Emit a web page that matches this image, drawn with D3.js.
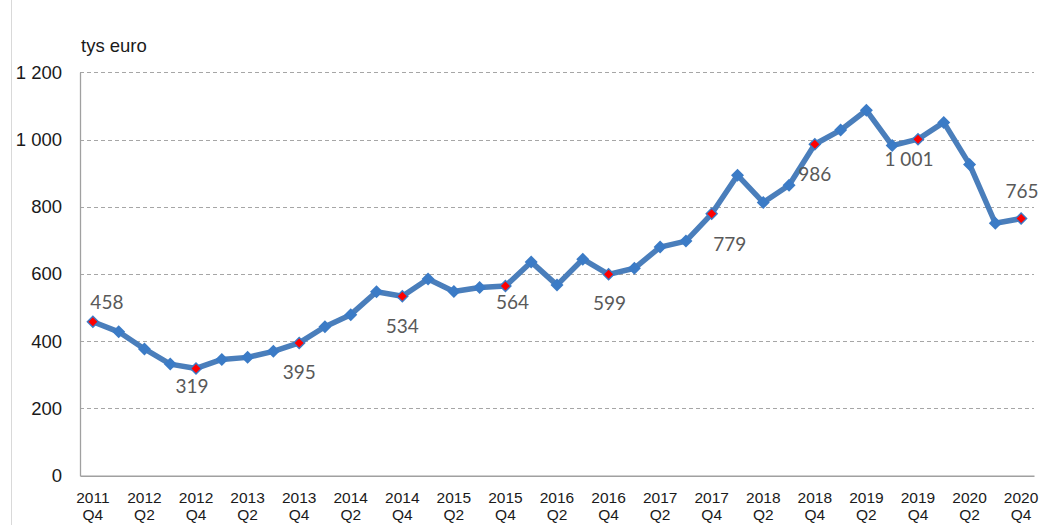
<!DOCTYPE html>
<html>
<head>
<meta charset="utf-8">
<script src="https://cdn.jsdelivr.net/npm/d3@7"></script>
<style>
  html, body { margin: 0; padding: 0; background: #fff; }
  svg { display: block; }
</style>
</head>
<body>
<svg id="chart" width="1039" height="525"></svg>
<script>
const quarters = ["2011 Q4","2012 Q1","2012 Q2","2012 Q3","2012 Q4","2013 Q1","2013 Q2","2013 Q3","2013 Q4",
  "2014 Q1","2014 Q2","2014 Q3","2014 Q4","2015 Q1","2015 Q2","2015 Q3","2015 Q4",
  "2016 Q1","2016 Q2","2016 Q3","2016 Q4","2017 Q1","2017 Q2","2017 Q3","2017 Q4",
  "2018 Q1","2018 Q2","2018 Q3","2018 Q4","2019 Q1","2019 Q2","2019 Q3","2019 Q4",
  "2020 Q1","2020 Q2","2020 Q3","2020 Q4"];
const values = [458, 428, 377, 332, 319, 346, 352, 370, 395,
  443, 479, 547, 534, 585, 548, 560, 564,
  636, 567, 644, 599, 617, 680, 698, 779,
  894, 813, 864, 986, 1028, 1087, 982, 1001,
  1051, 926, 751, 765];
const labeledQuarters = ["2011 Q4","2012 Q4","2013 Q4","2014 Q4","2015 Q4","2016 Q4","2017 Q4","2018 Q4","2019 Q4","2020 Q4"];
const labelTexts = ["458","319","395","534","564","599","779","986","1 001","765"];
const yTicks = [0, 200, 400, 600, 800, 1000, 1200];
const yTickLabels = ["0","200","400","600","800","1 000","1 200"];
const unitLabel = "tys euro";

// label placement offsets (dx, dy) relative to point
const labelOffsets = [[14,-18],[-4,20],[0,31],[0,32],[7,18],[1,31],[18,32],[0,32],[-9,22],[1,-25]];

(function () {
const svg = d3.select("#chart");
const W = 1039, H = 525;
const mLeft = 80, mRight = 1034, mTop = 72.3, mBottom = 475.7;

const x = d3.scaleBand().domain(quarters).range([mLeft, mRight]).padding(0);
const y = d3.scaleLinear().domain([0, 1200]).range([mBottom, mTop]);
const cx = q => x(q) + x.bandwidth() / 2;

// left border line
svg.append("line").attr("x1", 11.5).attr("x2", 11.5).attr("y1", 0).attr("y2", H)
  .attr("stroke", "#d9d9d9").attr("stroke-width", 1);

// gridlines
svg.append("g").selectAll("line").data(yTicks.filter(d => d > 0)).join("line")
  .attr("x1", mLeft).attr("x2", mRight)
  .attr("y1", d => Math.round(y(d)) + 0.5).attr("y2", d => Math.round(y(d)) + 0.5)
  .attr("stroke", "#a6a6a6").attr("stroke-width", 1.2).attr("stroke-dasharray", "4,3");

// y axis
const yAxis = d3.axisLeft(y).tickValues(yTicks).tickSize(0).tickPadding(18)
  .tickFormat((d, i) => yTickLabels[i]);
const gy = svg.append("g").attr("transform", `translate(${mLeft},0)`).call(yAxis);
gy.select(".domain").attr("stroke", "#a0a0a0").attr("stroke-width", 1.3);
gy.selectAll("text").attr("font-family", "Liberation Sans, Arial, sans-serif")
  .attr("font-size", 18.5).attr("fill", "#1a1a1a");

// x axis
const xAxis = d3.axisBottom(x).tickSize(0).tickFormat("");
const gx = svg.append("g").attr("transform", `translate(0,${mBottom})`).call(xAxis);
gx.select(".domain").attr("stroke", "#a0a0a0").attr("stroke-width", 1.6);

const shownQuarters = quarters.filter((q, i) => i % 2 === 0);
const xl = svg.append("g").selectAll("text").data(shownQuarters).join("text")
  .attr("x", d => cx(d)).attr("text-anchor", "middle")
  .attr("font-family", "Liberation Sans, Arial, sans-serif").attr("font-size", 15.5)
  .attr("fill", "#1a1a1a");
xl.append("tspan").attr("x", d => cx(d)).attr("y", 503).text(d => d.split(" ")[0]);
xl.append("tspan").attr("x", d => cx(d)).attr("y", 520).text(d => d.split(" ")[1]);

// unit label
svg.append("text").attr("x", 81).attr("y", 52).text(unitLabel)
  .attr("font-family", "Liberation Sans, Arial, sans-serif").attr("font-size", 18.5).attr("fill", "#1a1a1a");

// line
const data = quarters.map((q, i) => ({q, v: values[i]}));
svg.append("path").datum(data)
  .attr("d", d3.line().x(d => cx(d.q)).y(d => y(d.v)))
  .attr("fill", "none").attr("stroke", "#4a7ebb").attr("stroke-width", 5.5)
  .attr("stroke-linejoin", "round");

// blue markers
const diamond = s => `M0,${-s} L${s},0 L0,${s} L${-s},0 Z`;
svg.append("g").selectAll("path").data(data).join("path")
  .attr("transform", d => `translate(${cx(d.q)},${y(d.v)})`)
  .attr("d", diamond(6.5)).attr("fill", "#3b7bc6");

// red markers
const labeled = data.filter(d => labeledQuarters.includes(d.q));
svg.append("g").selectAll("path").data(labeled).join("path")
  .attr("transform", d => `translate(${cx(d.q)},${y(d.v)})`)
  .attr("d", diamond(4.5)).attr("fill", "#ff0000");

// data labels
svg.append("g").selectAll("text").data(labeled).join("text")
  .attr("x", (d, i) => cx(d.q) + labelOffsets[i][0])
  .attr("y", (d, i) => y(d.v) + labelOffsets[i][1])
  .attr("text-anchor", "middle").attr("dominant-baseline", "middle")
  .attr("font-family", "Lato, 'Open Sans', sans-serif").attr("font-size", 19)
  .attr("fill", "#595959")
  .text((d, i) => labelTexts[i]);
})();
</script>
</body>
</html>
